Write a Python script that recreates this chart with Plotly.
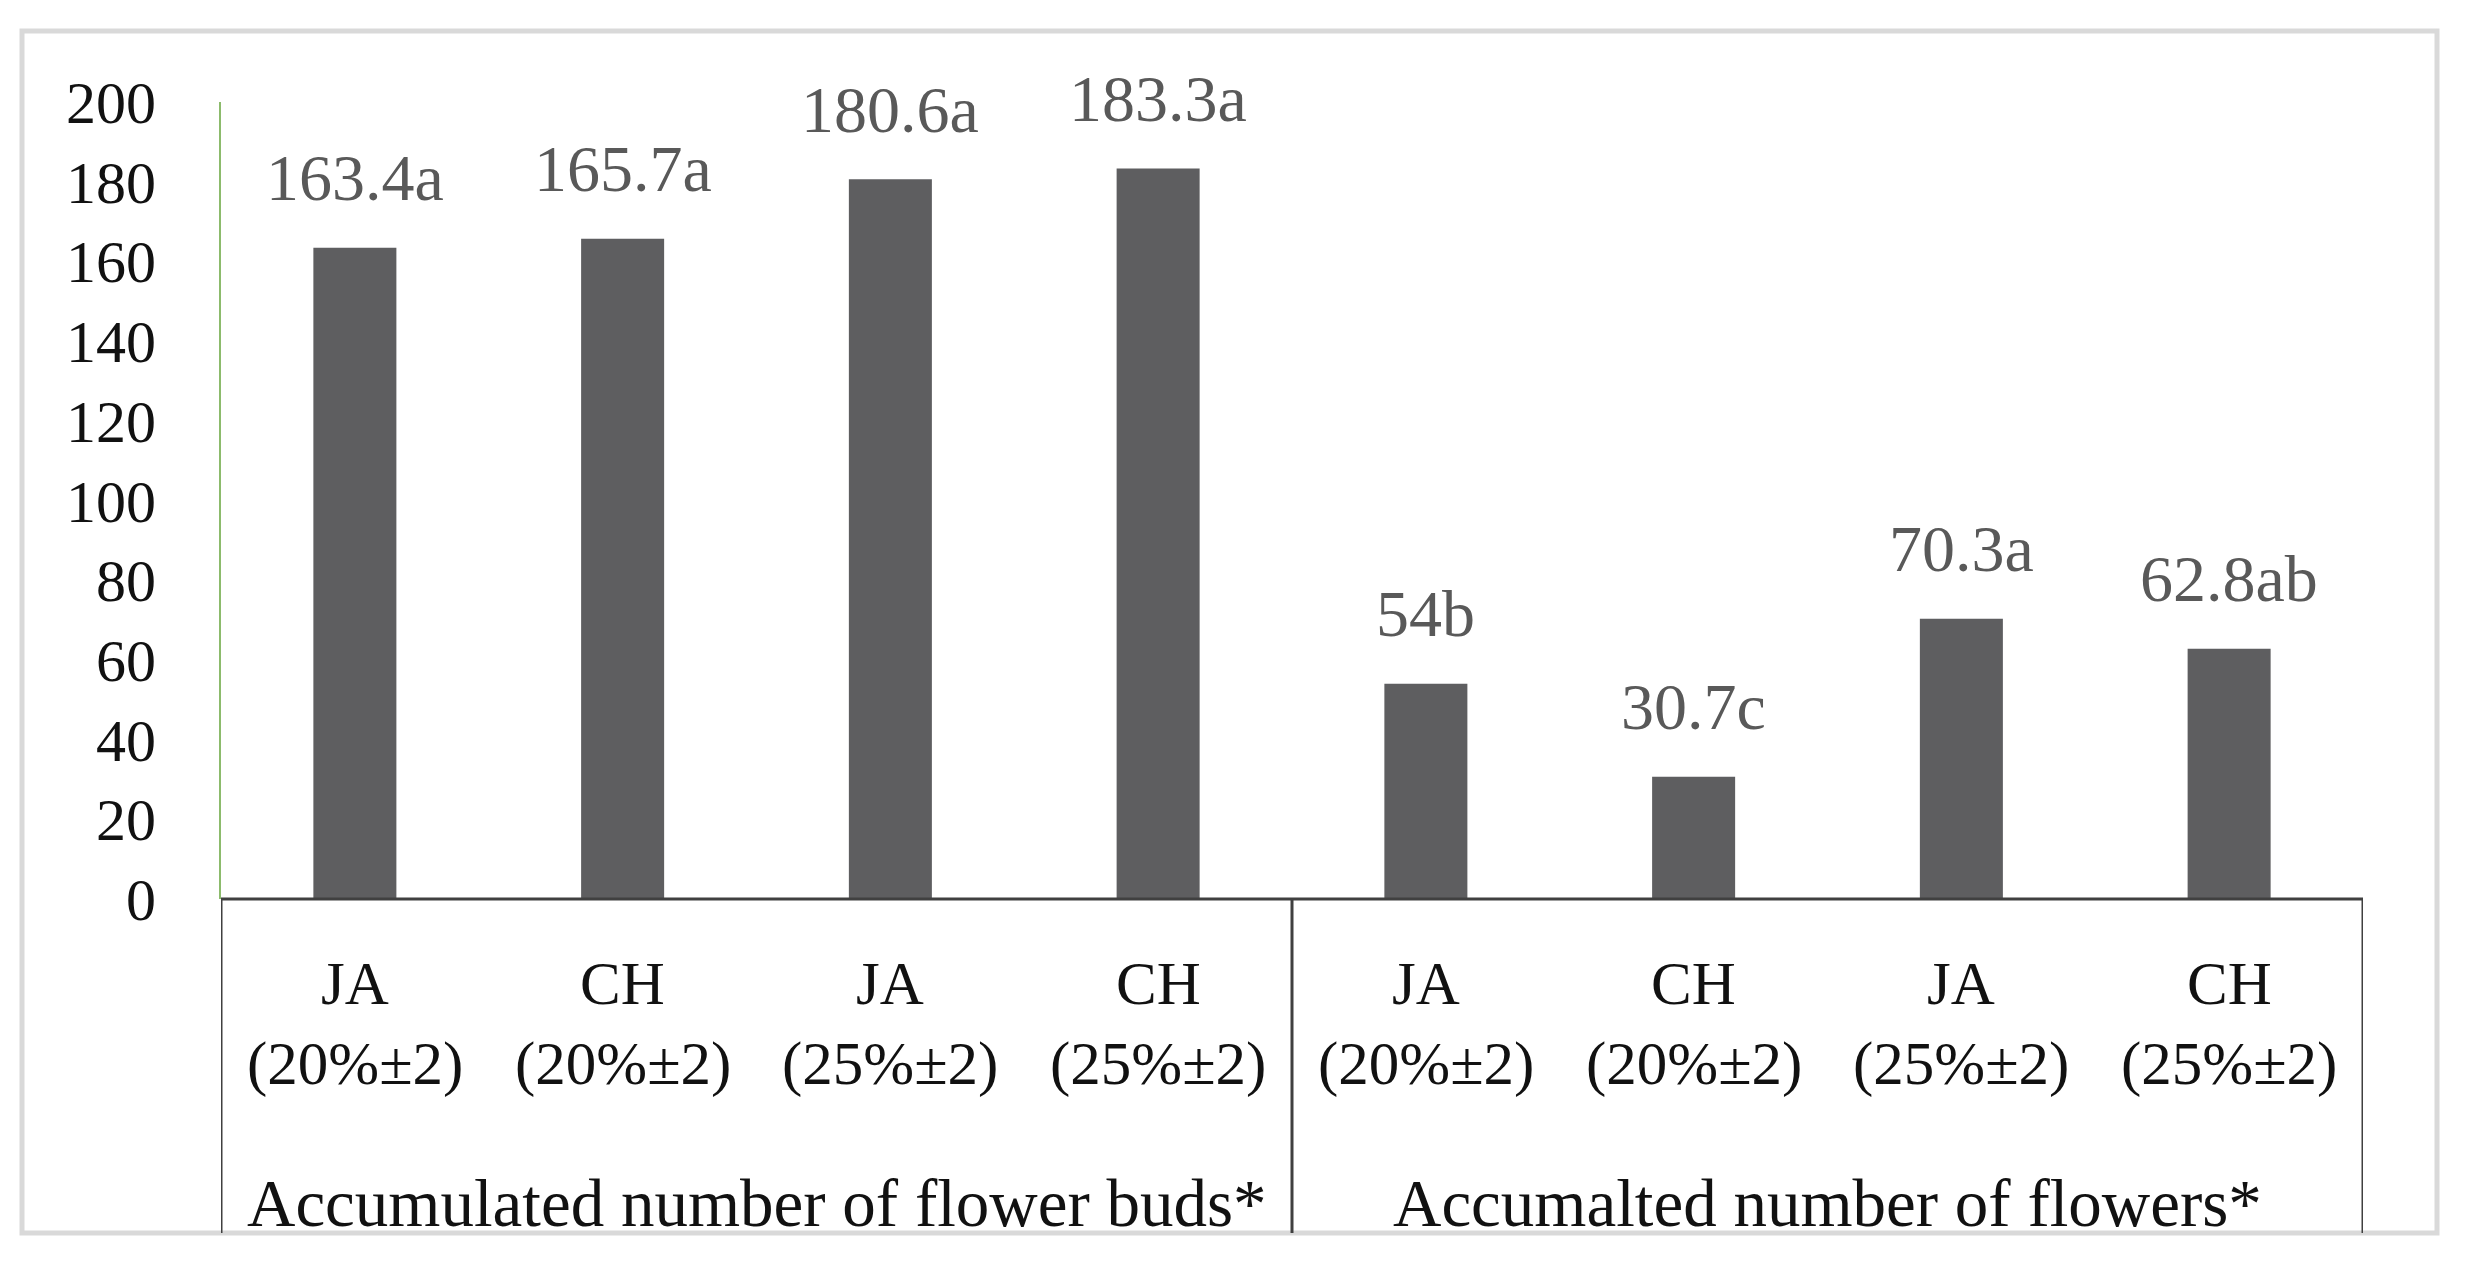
import plotly.graph_objects as go

# ---- data ----
varieties = ["JA", "CH", "JA", "CH", "JA", "CH", "JA", "CH"]
treatments = ["(20%±2)", "(20%±2)", "(25%±2)", "(25%±2)",
              "(20%±2)", "(20%±2)", "(25%±2)", "(25%±2)"]
values = [163.4, 165.7, 180.6, 183.3, 54, 30.7, 70.3, 62.8]
letters = ["a", "a", "a", "a", "b", "c", "a", "ab"]
groups = ["Accumulated number of flower buds*", "Accumalted number of flowers*"]
y_ticks = [0, 20, 40, 60, 80, 100, 120, 140, 160, 180, 200]

OFF = 8  # page body margin
W, H = 2469 - OFF, 1262 - OFF
# target screen pixels -> figure pixels
L, R, T, B = 221 - OFF, 2363 - OFF, 102 - OFF, 899 - OFF
FONT = "Liberation Serif"

x = list(range(len(values)))
fig = go.Figure()
fig.add_trace(go.Bar(
    x=x, y=values, width=0.31,
    marker=dict(color="#5E5E60", line=dict(width=0)),
    hoverinfo="skip", showlegend=False,
))

def py(pix):
    return (B - (pix - OFF)) / (B - T)

def px(pix):
    return ((pix - OFF) - L) / (R - L)

ann = []
for i, v in enumerate(values):
    lab = (f"{v:g}") + letters[i]
    ann.append(dict(x=i, y=v, xref="x", yref="y", text=lab, showarrow=False,
                    yanchor="middle", yshift=70,
                    font=dict(family=FONT, size=66, color="#595959")))
    ann.append(dict(x=i, y=py(984), xref="x", yref="paper", text=varieties[i],
                    showarrow=False, yanchor="middle",
                    font=dict(family=FONT, size=61, color="#111111")))
    ann.append(dict(x=i, y=py(1064), xref="x", yref="paper", text=treatments[i],
                    showarrow=False, yanchor="middle",
                    font=dict(family=FONT, size=61, color="#111111")))
for g, name in enumerate(groups):
    ann.append(dict(x=1.5 + 4 * g, y=py(1203), xref="x", yref="paper", text=name,
                    showarrow=False, yanchor="middle",
                    font=dict(family=FONT, size=67, color="#111111")))

line_c = "#404040"
shapes = []
for xv in [-0.5, 3.5, 7.5]:
    shapes.append(dict(type="line", xref="x", yref="paper", x0=xv, x1=xv,
                       y0=0, y1=py(1233), line=dict(color=line_c, width=3)))
shapes.append(dict(type="line", xref="x", yref="paper", x0=-0.5, x1=7.5,
                   y0=0, y1=0, line=dict(color=line_c, width=3)))
# outer light frame
shapes.append(dict(type="rect", xref="paper", yref="paper",
                   x0=px(22), x1=px(2437), y0=py(1233), y1=py(31),
                   line=dict(color="#D9D9D9", width=5), layer="below"))

fig.update_layout(
    width=W, height=H,
    margin=dict(l=L, r=W - R, t=T, b=H - B, pad=0),
    paper_bgcolor="white", plot_bgcolor="white",
    bargap=0.69,
    annotations=ann, shapes=shapes,
    xaxis=dict(range=[-0.5, 7.5], showticklabels=False, showgrid=False,
               zeroline=False, showline=False, ticks=""),
    yaxis=dict(range=[0, 200], tickvals=y_ticks, showgrid=False, zeroline=False,
               showline=True, linecolor="#8CBB6C", linewidth=2, ticks="",
               ticklabelstandoff=51,
               tickfont=dict(family=FONT, size=60, color="#111111")),
)

fig.write_html("out.html")
